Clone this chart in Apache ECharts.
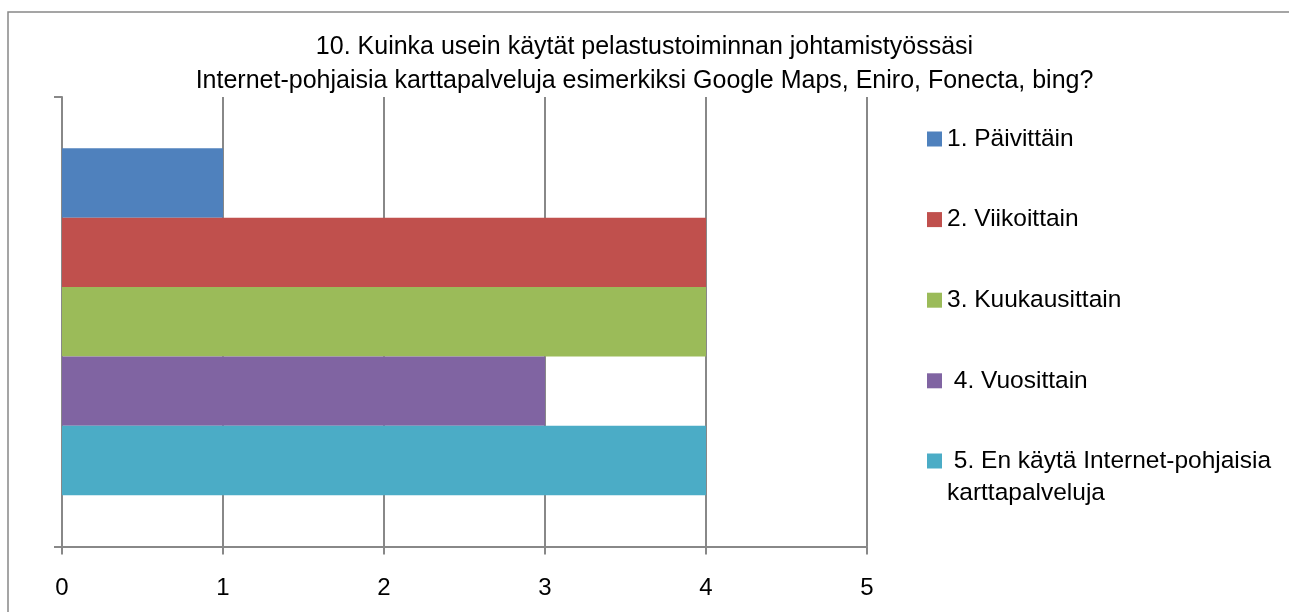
<!DOCTYPE html>
<html>
<head>
<meta charset="utf-8">
<script src="https://cdn.jsdelivr.net/npm/echarts@6/dist/echarts.min.js"></script>
<style>
  html, body { margin: 0; padding: 0; background: #fff; }
  #main { width: 1289px; height: 612px; }
</style>
</head>
<body>
<div id="main"></div>
<script>
// data
var titleLines = ['10. Kuinka usein käytät pelastustoiminnan johtamistyössäsi',
                  'Internet-pohjaisia karttapalveluja esimerkiksi Google Maps, Eniro, Fonecta, bing?'];
var categories = [''];
var seriesNames = ['1. Päivittäin', '2. Viikoittain', '3. Kuukausittain', ' 4. Vuosittain',
                   ' 5. En käytä Internet-pohjaisia\nkarttapalveluja'];
var seriesValues = [1, 4, 4, 3, 4];
var colors = ['#4F81BD', '#C0504D', '#9BBB59', '#8064A2', '#4BACC6'];
var xTicks = [0, 1, 2, 3, 4, 5];

var FONT = 'Liberation Sans';
var myChart = echarts.init(document.getElementById('main'));

var series = seriesNames.map(function (name, i) {
	return {
		name: name,
		type: 'bar',
		barWidth: 69.4,
		barGap: '0%',
		itemStyle: { color: colors[i] },
		data: [seriesValues[i]]
	};
});

var legendText = { fontFamily: FONT, fontSize: 24.5, color: '#000', lineHeight: 32 };
var lastName = seriesNames[seriesNames.length - 1];

var option = {
	backgroundColor: '#fff',
	animation: false,
	title: {
		text: titleLines.join('\n'),
		left: 'center',
		top: 25,
		textStyle: { fontFamily: FONT, fontSize: 25, fontWeight: 'normal', color: '#000', lineHeight: 34 }
	},
	legend: [{
		orient: 'vertical',
		left: 922,
		top: 118,
		itemWidth: 15,
		itemHeight: 15,
		itemGap: 48.6,
		icon: 'rect',
		textStyle: legendText,
		data: seriesNames.slice(0, 4)
	}, {
		// two-line item: blank first line keeps the icon level with the text's first line
		orient: 'vertical',
		left: 922,
		top: 408,
		itemWidth: 15,
		itemHeight: 15,
		icon: 'rect',
		textStyle: legendText,
		formatter: function (name) { return '\n' + name; },
		data: [lastName]
	}],
	grid: { left: 62, right: 422, top: 97, bottom: 65.5, containLabel: false },
	xAxis: {
		type: 'value',
		min: xTicks[0],
		max: xTicks[xTicks.length - 1],
		interval: 1,
		axisLine: { show: true, lineStyle: { color: '#888', width: 2 } },
		axisTick: { show: true, length: 8, lineStyle: { color: '#888', width: 2 } },
		splitLine: { show: true, lineStyle: { color: '#888', width: 2 } },
		axisLabel: { margin: 30, fontFamily: FONT, fontSize: 24, color: '#000' }
	},
	yAxis: {
		type: 'category',
		inverse: true,
		data: categories,
		axisLine: { show: true, lineStyle: { color: '#888', width: 2 } },
		axisTick: { show: true, length: 8, lineStyle: { color: '#888', width: 2 } },
		axisLabel: { show: false }
	},
	graphic: [{
		type: 'rect',
		shape: { x: 8, y: 12, width: 1400, height: 800 },
		style: { fill: null, stroke: '#888', lineWidth: 1.5 },
		silent: true
	}],
	series: series
};
myChart.setOption(option);
</script>
</body>
</html>
